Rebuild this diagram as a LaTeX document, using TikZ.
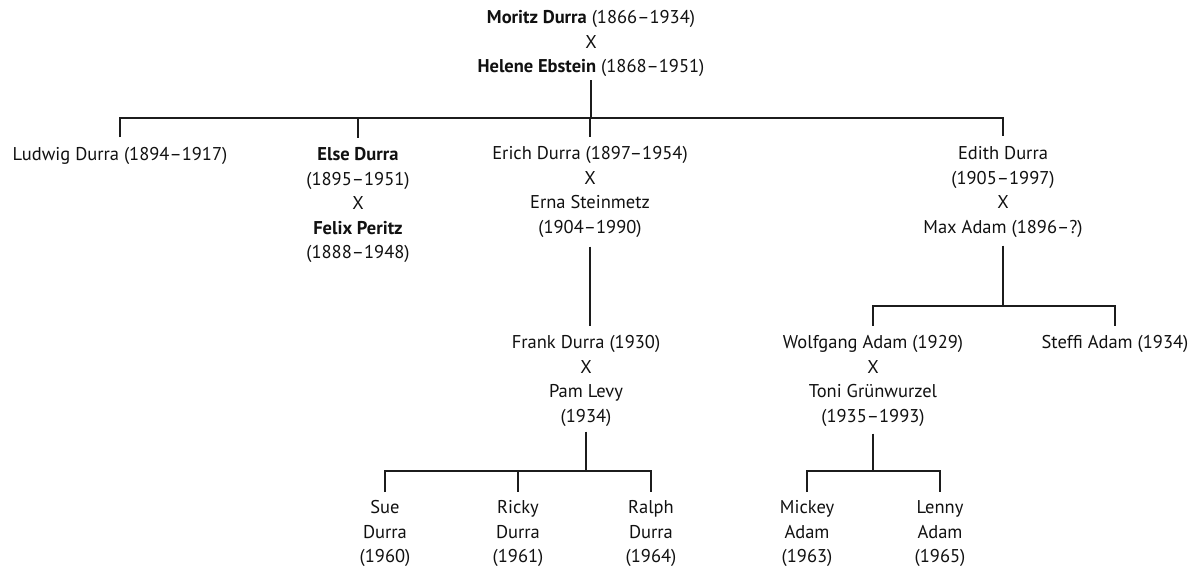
\documentclass[tikz,border=0pt]{standalone}
\usepackage{fontspec}
\setmainfont{PT Sans}
\definecolor{ink}{HTML}{1C1C1C}
\definecolor{textink}{HTML}{111111}
\begin{document}
\begin{tikzpicture}[x=1pt,y=-1pt,
  person/.style={align=center,inner sep=0pt,anchor=north,text=textink,
    font=\fontsize{18.5}{24.5}\selectfont},
  link/.style={draw=ink,line width=2pt}]
\useasboundingbox[fill=white] (0,0) rectangle (1201,574);
% people
\node[person] (top) at (591,10.5) {\textbf{Moritz Durra} (1866–1934)\\X\\\textbf{Helene Ebstein} (1868–1951)};
\node[person] (ludwig) at (120,147.5) {Ludwig Durra (1894–1917)};
\node[person] (else) at (358,147.5) {\textbf{Else Durra}\\(1895–1951)\\X\\\textbf{Felix Peritz}\\(1888–1948)};
\node[person] (erich) at (590,146.5) {Erich Durra (1897–1954)\\X\\Erna Steinmetz\\(1904–1990)};
\node[person] (edith) at (1003,146.5) {Edith Durra\\(1905–1997)\\X\\Max Adam (1896–?)};
\node[person] (frank) at (586,335.5) {Frank Durra (1930)\\X\\Pam Levy\\(1934)};
\node[person] (wolfgang) at (873,335.5) {Wolfgang Adam (1929)\\X\\Toni Grünwurzel\\(1935–1993)};
\node[person] (steffi) at (1115,335.5) {Steffi Adam (1934)};
\node[person] (sue) at (385,500.5) {Sue\\Durra\\(1960)};
\node[person] (ricky) at (518,500.5) {Ricky\\Durra\\(1961)};
\node[person] (ralph) at (651,500.5) {Ralph\\Durra\\(1964)};
\node[person] (mickey) at (807,500.5) {Mickey\\Adam\\(1963)};
\node[person] (lenny) at (940,500.5) {Lenny\\Adam\\(1965)};
% junctions
\coordinate (j0) at (591,118);
\coordinate (j2) at (1003,306);
\coordinate (j3) at (586,471);
\coordinate (j4) at (873,471);
% connectors
\draw[link,shorten <=3pt] (top.south) -- (top.south |- j0);
\draw[link,shorten <=10.5pt,shorten >=10.5pt] (ludwig.north) -- (ludwig.north |- j0) -- (edith.north |- j0) -- (edith.north);
\draw[link,shorten >=10pt] (else.north |- j0) -- (else.north);
\draw[link,shorten >=10pt] (erich.north |- j0) -- (erich.north);
\draw[link,shorten <=9pt,shorten >=10pt] (erich.south) -- (erich.south |- frank.north);
\draw[link,shorten <=8pt] (edith.south) -- (edith.south |- j2);
\draw[link,shorten <=10pt,shorten >=10pt] (wolfgang.north) -- (wolfgang.north |- j2) -- (steffi.north |- j2) -- (steffi.north);
\draw[link,shorten <=5pt] (frank.south) -- (frank.south |- j3);
\draw[link,shorten <=8.5pt,shorten >=8.5pt] (sue.north) -- (sue.north |- j3) -- (ralph.north |- j3) -- (ralph.north);
\draw[link,shorten >=8.5pt] (ricky.north |- j3) -- (ricky.north);
\draw[link,shorten <=7pt] (wolfgang.south) -- (wolfgang.south |- j4);
\draw[link,shorten <=8.5pt,shorten >=8.5pt] (mickey.north) -- (mickey.north |- j4) -- (lenny.north |- j4) -- (lenny.north);
\end{tikzpicture}
\end{document}
